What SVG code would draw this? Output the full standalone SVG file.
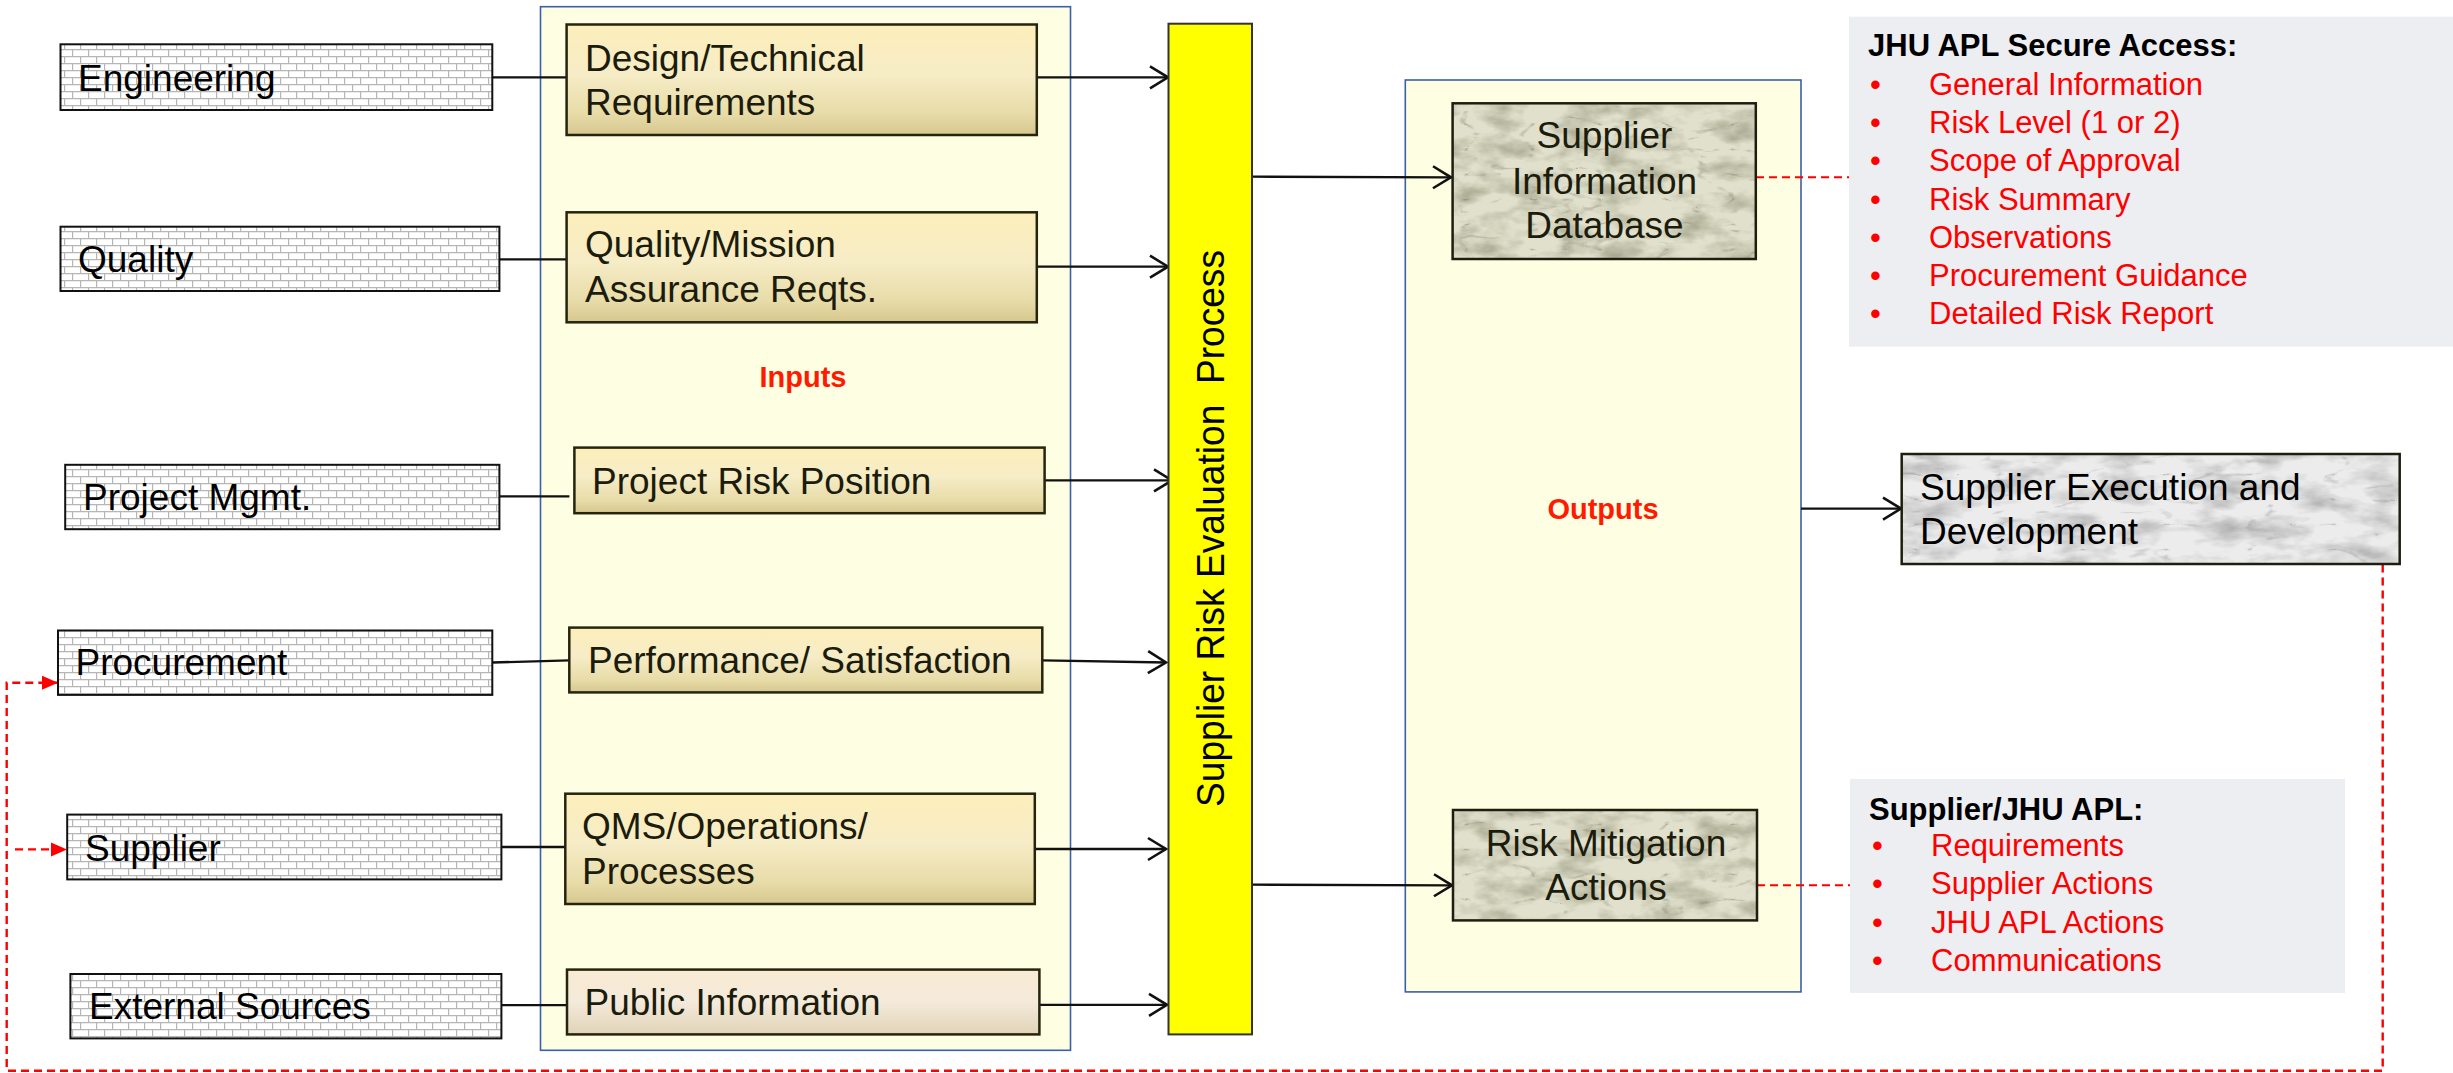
<svg xmlns="http://www.w3.org/2000/svg" width="2453" height="1073" viewBox="0 0 2453 1073">
  <style>
    text { font-family: "Liberation Sans", Arial, sans-serif; }
    .lbl { font-size: 37px; fill: #000; }
    .dark { font-size: 37px; fill: #1c1c0c; }
    .brickbox { fill: url(#brick); stroke: #111; stroke-width: 2; }
    .inbox { fill: url(#inGrad); stroke: #24240f; stroke-width: 2.5; }
    .pubbox { fill: url(#pubGrad); stroke: #24240f; stroke-width: 2.5; }
    .frame { fill: #fefee3; stroke: #3b5fa8; stroke-width: 1.6; }
    .note { fill: #eceef2; }
    .title { font-size: 31px; font-weight: bold; fill: #000; }
    .item { font-size: 31px; fill: #ff0000; }
    .section { font-size: 29px; font-weight: bold; fill: #ff1a00; }
    .edge { stroke: #111; stroke-width: 2.3; fill: none; marker-end: url(#openArrow); }
    .plain { stroke: #111; stroke-width: 2.3; fill: none; }
    .dash { stroke: #ff0000; stroke-width: 2; fill: none; stroke-dasharray: 8 5; }
    .dashArrow { stroke: #ff0000; stroke-width: 2.4; fill: none; stroke-dasharray: 8 5; marker-end: url(#redArrow); }
    .boxline { fill: none; stroke: #1e1e10; stroke-width: 2.5; }
  </style>
  <defs>
    <pattern id="brick" width="16" height="14" patternUnits="userSpaceOnUse">
      <rect width="16" height="14" fill="#ffffff"/>
      <path d="M0,0.6H16 M0,7.6H16 M0.6,0V7 M8.6,7V14" stroke="#b6b6b6" stroke-width="1.2" fill="none"/>
    </pattern>
    <linearGradient id="inGrad" x1="0" y1="0" x2="0" y2="1">
      <stop offset="0" stop-color="#fdefbb"/>
      <stop offset="0.45" stop-color="#f6ecc6"/>
      <stop offset="0.8" stop-color="#e8dca9"/>
      <stop offset="1" stop-color="#d6c78e"/>
    </linearGradient>
    <linearGradient id="pubGrad" x1="0" y1="0" x2="0" y2="1">
      <stop offset="0" stop-color="#f9ebd3"/>
      <stop offset="0.5" stop-color="#f4eadb"/>
      <stop offset="1" stop-color="#e0d3b6"/>
    </linearGradient>
    <!-- marble surfaces: soft clouds plus thin veins over a flat base -->
    <filter id="marbleGray" x="0" y="0" width="1" height="1" color-interpolation-filters="sRGB">
      <feFlood flood-color="#ececec" result="base"/>
      <feTurbulence type="fractalNoise" baseFrequency="0.02 0.05" numOctaves="4" seed="7" result="cloud"/>
      <feColorMatrix in="cloud" type="matrix" values="0 0 0 0 0.62  0 0 0 0 0.62  0 0 0 0 0.62  0 0 0 -1.6 0.92" result="shade"/>
      <feTurbulence type="turbulence" baseFrequency="0.012 0.04" numOctaves="3" seed="2" result="t"/>
      <feColorMatrix in="t" type="matrix" values="0 0 0 0 0.5  0 0 0 0 0.5  0 0 0 0 0.5  -3 0 0 0 0.35" result="veins"/>
      <feMerge><feMergeNode in="base"/><feMergeNode in="shade"/><feMergeNode in="veins"/></feMerge>
    </filter>
    <filter id="marbleGreen" x="0" y="0" width="1" height="1" color-interpolation-filters="sRGB">
      <feFlood flood-color="#e0e0cc" result="base"/>
      <feTurbulence type="fractalNoise" baseFrequency="0.025 0.05" numOctaves="4" seed="11" result="cloud"/>
      <feColorMatrix in="cloud" type="matrix" values="0 0 0 0 0.58  0 0 0 0 0.58  0 0 0 0 0.48  0 0 0 -1.6 0.92" result="shade"/>
      <feTurbulence type="turbulence" baseFrequency="0.015 0.04" numOctaves="3" seed="4" result="t"/>
      <feColorMatrix in="t" type="matrix" values="0 0 0 0 0.42  0 0 0 0 0.42  0 0 0 0 0.34  -3 0 0 0 0.35" result="veins"/>
      <feMerge><feMergeNode in="base"/><feMergeNode in="shade"/><feMergeNode in="veins"/></feMerge>
    </filter>
    <marker id="openArrow" markerUnits="userSpaceOnUse" markerWidth="24" markerHeight="28" refX="20" refY="13" orient="auto">
      <path d="M2,2 L20,13 L2,24" fill="none" stroke="#111" stroke-width="2.6"/>
    </marker>
    <marker id="redArrow" markerUnits="userSpaceOnUse" markerWidth="18" markerHeight="16" refX="16" refY="7" orient="auto">
      <path d="M0,0 L16,7 L0,14 Z" fill="#ff0000"/>
    </marker>
  </defs>

  <!-- background frames -->
  <g id="inputs-frame">
    <rect class="frame" x="540.5" y="6.7" width="530" height="1043.6"/>
    <text class="section" x="803" y="386.7" text-anchor="middle">Inputs</text>
  </g>
  <g id="outputs-frame">
    <rect class="frame" x="1405.3" y="80" width="395.7" height="911.9"/>
    <text class="section" x="1603" y="518.7" text-anchor="middle">Outputs</text>
  </g>

  <!-- connectors -->
  <g id="connectors">
    <line class="plain" x1="492.3" y1="77.3" x2="566.6" y2="77.3"/>
    <line class="plain" x1="499.4" y1="259.3" x2="566.6" y2="259.3"/>
    <line class="plain" x1="499.4" y1="496.4" x2="569.4" y2="496.4"/>
    <line class="plain" x1="492.3" y1="662.5" x2="569.3" y2="660.4"/>
    <line class="plain" x1="501.4" y1="847" x2="565.3" y2="847"/>
    <line class="plain" x1="501.4" y1="1005.2" x2="567" y2="1005.2"/>

    <line class="edge" x1="1036.8" y1="77.3" x2="1168" y2="77.3"/>
    <line class="edge" x1="1036.8" y1="266.7" x2="1168" y2="266.7"/>
    <line class="edge" x1="1044.6" y1="480.4" x2="1172" y2="480.4"/>
    <line class="edge" x1="1042.3" y1="660.4" x2="1166" y2="662.5"/>
    <line class="edge" x1="1034.8" y1="849" x2="1166" y2="849"/>
    <line class="edge" x1="1039.4" y1="1004.8" x2="1167" y2="1004.8"/>

    <line class="edge" x1="1252" y1="176.7" x2="1451" y2="177.3"/>
    <line class="edge" x1="1252" y1="884.7" x2="1452" y2="885.3"/>
    <line class="edge" x1="1801" y1="508.6" x2="1901" y2="508.6"/>

    <line class="dash" x1="1756" y1="177.3" x2="1849" y2="177.3"/>
    <line class="dash" x1="1757" y1="885.3" x2="1850" y2="885.3"/>
    <polyline class="dashArrow" points="2382.7,564.5 2382.7,1070.8 6.7,1070.8 6.7,682.7 58,682.7"/>
    <line class="dashArrow" x1="15" y1="849.4" x2="67" y2="849.4"/>
  </g>

  <!-- sources -->
  <g id="engineering">
    <rect class="brickbox" x="60.5" y="44.3" width="431.8" height="65.7"/>
    <text class="lbl" x="78" y="90.7">Engineering</text>
  </g>
  <g id="quality">
    <rect class="brickbox" x="60.5" y="226.7" width="438.9" height="64.3"/>
    <text class="lbl" x="78" y="271.7">Quality</text>
  </g>
  <g id="project-mgmt">
    <rect class="brickbox" x="65.2" y="464.8" width="434.2" height="64.4"/>
    <text class="lbl" x="83" y="510">Project Mgmt.</text>
  </g>
  <g id="procurement">
    <rect class="brickbox" x="58" y="630.5" width="434.3" height="64.4"/>
    <text class="lbl" x="75.5" y="675.2">Procurement</text>
  </g>
  <g id="supplier">
    <rect class="brickbox" x="67.2" y="814.6" width="434.2" height="64.8"/>
    <text class="lbl" x="85" y="860.5">Supplier</text>
  </g>
  <g id="external-sources">
    <rect class="brickbox" x="70.4" y="974" width="431" height="64.4"/>
    <text class="lbl" x="89" y="1019.2">External Sources</text>
  </g>

  <!-- inputs -->
  <g id="design-technical">
    <rect class="inbox" x="566.6" y="24.5" width="470.2" height="110.5"/>
    <text class="dark" x="585" y="70.7">Design/Technical</text>
    <text class="dark" x="585" y="115">Requirements</text>
  </g>
  <g id="quality-mission">
    <rect class="inbox" x="566.6" y="212.3" width="470.2" height="110"/>
    <text class="dark" x="585" y="257.3">Quality/Mission</text>
    <text class="dark" x="585" y="301.7">Assurance Reqts.</text>
  </g>
  <g id="project-risk">
    <rect class="inbox" x="574.4" y="447.6" width="470.2" height="65.6"/>
    <text class="dark" x="592" y="493.5">Project Risk Position</text>
  </g>
  <g id="performance">
    <rect class="inbox" x="569.3" y="627.6" width="473" height="64.8"/>
    <text class="dark" x="588" y="672.7">Performance/ Satisfaction</text>
  </g>
  <g id="qms">
    <rect class="inbox" x="565.3" y="793.7" width="469.5" height="110.3"/>
    <text class="dark" x="582" y="838.8">QMS/Operations/</text>
    <text class="dark" x="582" y="883.9">Processes</text>
  </g>
  <g id="public-information">
    <rect class="pubbox" x="567" y="969.6" width="472.4" height="64.8"/>
    <text class="dark" x="584.5" y="1015">Public Information</text>
  </g>

  <!-- central process bar -->
  <g id="evaluation-process">
    <rect x="1168.5" y="23.7" width="83.5" height="1010.7" fill="#ffff00" stroke="#333" stroke-width="2"/>
    <text transform="translate(1224,528.5) rotate(-90)" text-anchor="middle" font-size="39" fill="#000" textLength="557" lengthAdjust="spacingAndGlyphs" style="white-space:pre">Supplier Risk Evaluation  Process</text>
  </g>

  <!-- outputs -->
  <g id="supplier-database">
    <rect x="1452.6" y="103.3" width="303.2" height="155.7" filter="url(#marbleGreen)"/>
    <rect class="boxline" x="1452.6" y="103.3" width="303.2" height="155.7"/>
    <text class="dark" x="1604.5" y="148" text-anchor="middle">Supplier</text>
    <text class="dark" x="1604.5" y="194" text-anchor="middle">Information</text>
    <text class="dark" x="1604.5" y="238.3" text-anchor="middle">Database</text>
  </g>
  <g id="risk-mitigation">
    <rect x="1453" y="810" width="304" height="110.4" filter="url(#marbleGreen)"/>
    <rect class="boxline" x="1453" y="810" width="304" height="110.4"/>
    <text class="dark" x="1606" y="855.8" text-anchor="middle">Risk Mitigation</text>
    <text class="dark" x="1606" y="900" text-anchor="middle">Actions</text>
  </g>
  <g id="execution-development">
    <rect x="1901.7" y="454" width="498" height="110" filter="url(#marbleGray)"/>
    <rect class="boxline" x="1901.7" y="454" width="498" height="110"/>
    <text class="lbl" x="1920" y="499.7">Supplier Execution and</text>
    <text class="lbl" x="1920" y="544">Development</text>
  </g>

  <!-- notes -->
  <g id="secure-access">
    <rect class="note" x="1849" y="16.7" width="604" height="330"/>
    <text class="title" x="1868" y="56">JHU APL Secure Access:</text>
    <g class="item">
      <text x="1870" y="95">•</text><text x="1929" y="95">General Information</text>
      <text x="1870" y="133.2">•</text><text x="1929" y="133.2">Risk Level (1 or 2)</text>
      <text x="1870" y="171.4">•</text><text x="1929" y="171.4">Scope of Approval</text>
      <text x="1870" y="209.6">•</text><text x="1929" y="209.6">Risk Summary</text>
      <text x="1870" y="247.8">•</text><text x="1929" y="247.8">Observations</text>
      <text x="1870" y="286">•</text><text x="1929" y="286">Procurement Guidance</text>
      <text x="1870" y="324.2">•</text><text x="1929" y="324.2">Detailed Risk Report</text>
    </g>
  </g>
  <g id="supplier-apl">
    <rect class="note" x="1850" y="779" width="495" height="214"/>
    <text class="title" x="1869" y="819.5">Supplier/JHU APL:</text>
    <g class="item">
      <text x="1872" y="855.8">•</text><text x="1931" y="855.8">Requirements</text>
      <text x="1872" y="894.3">•</text><text x="1931" y="894.3">Supplier Actions</text>
      <text x="1872" y="932.7">•</text><text x="1931" y="932.7">JHU APL Actions</text>
      <text x="1872" y="971">•</text><text x="1931" y="971">Communications</text>
    </g>
  </g>
</svg>
